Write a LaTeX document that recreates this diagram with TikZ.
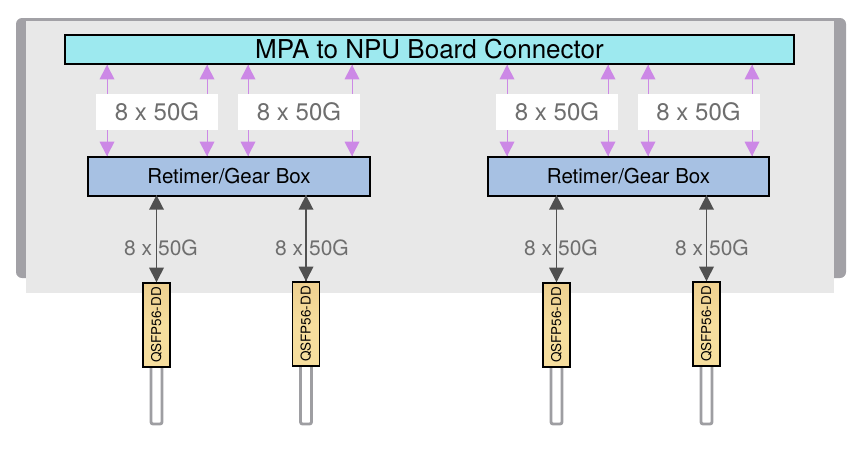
\documentclass[tikz,border=0pt]{standalone}
\usepackage{fontspec}
\setmainfont{TeX Gyre Heros}
\definecolor{panel}{HTML}{E8E8E8}
\definecolor{frame}{HTML}{A2A1A6}
\definecolor{conn}{HTML}{9DE9EF}
\definecolor{retimer}{HTML}{A7C1E3}
\definecolor{qsfp}{HTML}{F6DE9E}
\definecolor{purp}{HTML}{CC88E6}
\definecolor{darkarr}{HTML}{505050}
\definecolor{lbl}{HTML}{6E6E6E}
\definecolor{cable}{HTML}{9E9EA2}
\tikzset{
  boxstyle/.style={draw=black, line width=1.6pt, inner sep=0pt, outer sep=0pt},
  wbox/.style={fill=white, inner sep=0pt, outer sep=0pt, minimum width=122pt, minimum height=36pt, text=lbl, font=\fontsize{24}{27}\selectfont},
  pline/.style={draw=purp, line width=1pt},
  dline/.style={draw=darkarr, line width=1.8pt},
  lowlbl/.style={text=lbl, font=\fontsize{21}{24}\selectfont, inner sep=0pt},
  qbox/.style={boxstyle, top color=qsfp!85!brown, bottom color=qsfp, middle color=qsfp, minimum width=27pt, minimum height=84pt, font=\fontsize{13.5}{14}\selectfont},
  cablestyle/.style={draw=cable, line width=2.8pt, fill=white, rounded corners=2pt}
}
\begin{document}
\begin{tikzpicture}[x=1pt,y=-1pt]
\useasboundingbox (0,0) rectangle (860,458);
% chassis
\fill[frame, rounded corners=6pt] (16,18) rectangle (846,278);
\fill[panel] (26,21) rectangle (834,293);
% main boxes
\node[boxstyle, fill=conn, minimum width=729pt, minimum height=29pt, font=\fontsize{26}{29}\selectfont] (mpa) at (429.5,49.5) {MPA to NPU Board Connector};
\node[boxstyle, fill=retimer, minimum width=282pt, minimum height=39pt, font=\fontsize{20.5}{23}\selectfont] (retL) at (229,176.5) {Retimer/Gear Box};
\node[boxstyle, fill=retimer, minimum width=281pt, minimum height=39pt, font=\fontsize{20.5}{23}\selectfont] (retR) at (628.5,176.5) {Retimer/Gear Box};
% purple arrows
\foreach \x/\n/\r in {107/a/retL,207/b/retL,248/c/retL,352/d/retL,507/e/retR,608/f/retR,648/g/retR,752/h/retR}{
  \coordinate (pt\n) at (\x,64.8);
  \coordinate (pb\n) at ([yshift=0.8pt]pt\n |- \r.north);
  \draw[pline] (pt\n) -- (pb\n);
  \fill[purp] (pt\n) -- ++(-7.5,14.5) -- ++(15,0) -- cycle;
  \fill[purp] (pb\n) -- ++(-7.5,-14.5) -- ++(15,0) -- cycle;
}
% white label boxes
\node[wbox] (w1) at (157,112) {8 x 50G};
\node[wbox] (w2) at (299,112) {8 x 50G};
\node[wbox] (w3) at (557,112) {8 x 50G};
\node[wbox] (w4) at (698.5,112) {8 x 50G};
% cables
\foreach \x/\n in {156.5/1,306/2,556.5/3,706.5/4}{
  \draw[cablestyle] (\x-5.5,340) rectangle (\x+5.5,424);
}
% QSFP modules
\node[qbox] (q1) at (156.5,325) {\rotatebox{90}{QSFP56-DD}};
\node[qbox] (q2) at (306,324) {\rotatebox{90}{QSFP56-DD}};
\node[qbox] (q3) at (556.5,325) {\rotatebox{90}{QSFP56-DD}};
\node[qbox] (q4) at (706.5,324) {\rotatebox{90}{QSFP56-DD}};
% lower labels
\node[lowlbl] (l1) at (161,248) {8 x 50G};
\node[lowlbl] (l2) at (312,248) {8 x 50G};
\node[lowlbl] (l3) at (561,248) {8 x 50G};
\node[lowlbl] (l4) at (712,248) {8 x 50G};
% dark arrows
\foreach \q/\r in {q1/retL,q2/retL,q3/retR,q4/retR}{
  \coordinate (dt\q) at ([yshift=0.8pt]\r.south -| \q.north);
  \coordinate (db\q) at ([yshift=0.8pt]\q.north);
  \draw[dline] (dt\q) -- (db\q);
  \fill[darkarr] (dt\q) -- ++(-7.5,14.5) -- ++(15,0) -- cycle;
  \fill[darkarr] (db\q) -- ++(-7.5,-14.5) -- ++(15,0) -- cycle;
}
\end{tikzpicture}
\end{document}
